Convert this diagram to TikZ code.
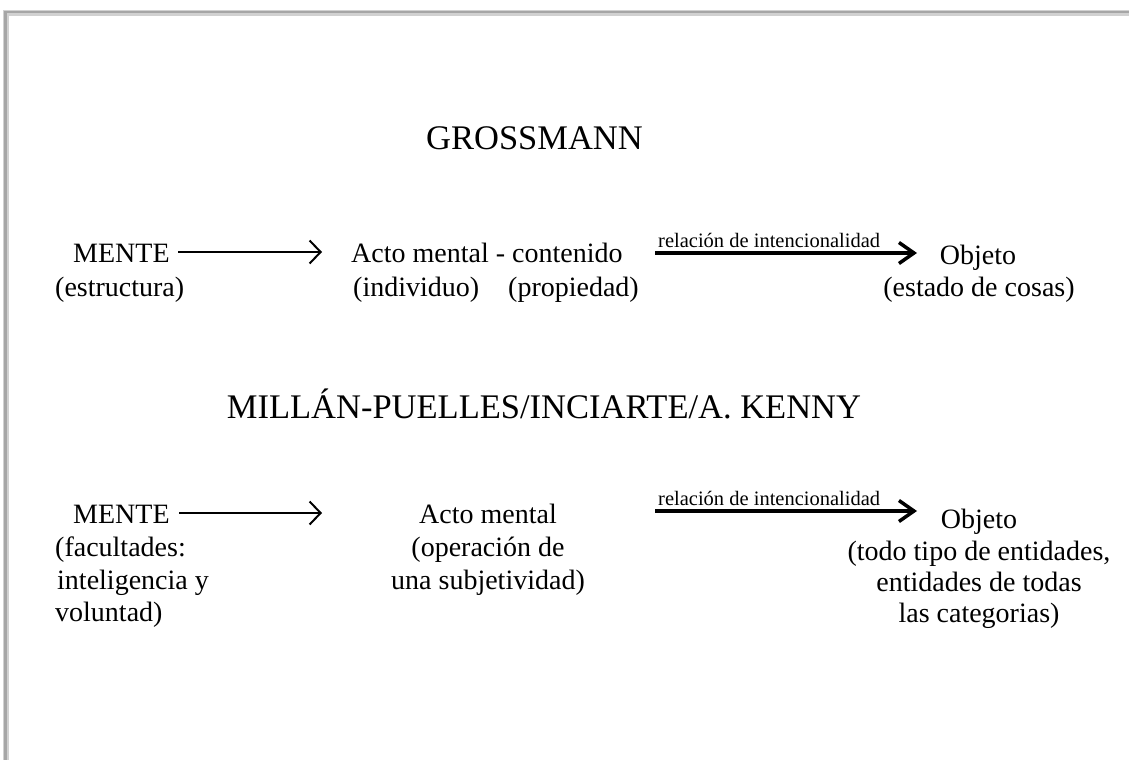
\documentclass[tikz,border=0pt]{standalone}
\usepackage{fontspec}
\setmainfont{Liberation Serif}
\usetikzlibrary{arrows.meta}
\begin{document}
\begin{tikzpicture}[x=1pt,y=-1pt,
  txt/.style={font=\fontsize{28}{33}\selectfont, inner sep=0pt},
  ttl/.style={font=\fontsize{34.5}{40}\selectfont, inner sep=0pt},
  lbl/.style={font=\fontsize{20.5}{24}\selectfont, inner sep=0pt},
  thinarrow/.style={line width=2pt, -{Straight Barb[length=11pt,width=23pt,line width=2pt]}},
  thickarrow/.style={line width=3.5pt, -{Straight Barb[length=15pt,width=21pt,line width=3.5pt]}},
  framec/.style={fill=black!35}
]
\useasboundingbox (0,0) rectangle (1129,760);
% frame shadow
\fill[black!18] (4,10) rectangle (1129,16);
\fill[black!18] (3,10) rectangle (9,760);
\fill[framec] (4,11) rectangle (1129,13.5);
\fill[framec] (4,11) rectangle (6.5,760);

% GROSSMANN
\node[ttl, anchor=base] (t1) at (534.5,149) {GROSSMANN};
\node[txt, anchor=base west] (m1) at (73,262) {MENTE};
\node[txt, anchor=base west] (m1b) at (55,296) {(estructura)};
\node[txt, anchor=base west] (a1) at (351,262) {Acto mental - contenido};
\node[txt, anchor=base west] (a1b) at (353,296) {(individuo)\hspace{29pt}(propiedad)};
\node[txt, anchor=base] (o1) at (978,264) {Objeto};
\node[txt, anchor=base] (o1b) at (979,296) {(estado de cosas)};
\coordinate (p1s) at (178,252);
\coordinate (p1e) at (322,252);
\draw[thinarrow] (p1s) -- (p1e);
\coordinate (q1s) at (655,253);
\coordinate (q1e) at (917,253);
\draw[thickarrow] (q1s) -- (q1e);
\node[lbl, anchor=base west] (r1) at (658,247) {relación de intencionalidad};

% MILLAN-PUELLES
\node[ttl, anchor=base] (t2) at (544,418) {MILLÁN-PUELLES/INCIARTE/A. KENNY};
\node[txt, anchor=base west] (m2) at (73,523) {MENTE};
\node[txt, anchor=base west] (m2b) at (55,556) {(facultades:};
\node[txt, anchor=base west] (m2c) at (57,589) {inteligencia y};
\node[txt, anchor=base west] (m2d) at (55,621) {voluntad)};
\node[txt, anchor=base] (a2) at (488,523) {Acto mental};
\node[txt, anchor=base] (a2b) at (488,556) {(operación de};
\node[txt, anchor=base] (a2c) at (488,589) {una subjetividad)};
\coordinate (p2s) at (179,513);
\coordinate (p2e) at (322,513);
\draw[thinarrow] (p2s) -- (p2e);
\coordinate (q2s) at (655,511);
\coordinate (q2e) at (917,511);
\draw[thickarrow] (q2s) -- (q2e);
\node[lbl, anchor=base west] (r2) at (658,505) {relación de intencionalidad};
\node[txt, anchor=base] (o2) at (979,528) {Objeto};
\node[txt, anchor=base] (o2b) at (979,560) {(todo tipo de entidades,};
\node[txt, anchor=base] (o2c) at (979,591) {entidades de todas};
\node[txt, anchor=base] (o2d) at (979,622) {las categorias)};
\end{tikzpicture}
\end{document}
